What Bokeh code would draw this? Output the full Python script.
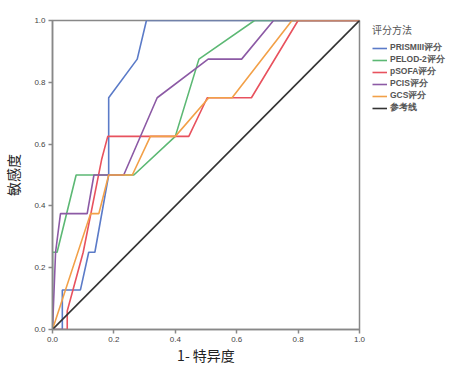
from bokeh.plotting import figure
from bokeh.models import Legend, LegendItem, FixedTicker, Range1d
from bokeh.embed import file_html
from bokeh.resources import INLINE

# ROC curves (1 - specificity, sensitivity)
prism_x = [0, 0.032, 0.032, 0.091, 0.118, 0.138, 0.183, 0.183, 0.276, 0.306, 1.0]
prism_y = [0, 0, 0.128, 0.128, 0.25, 0.25, 0.5, 0.75, 0.875, 1.0, 1.0]

pelod_x = [0, 0, 0.015, 0.077, 0.265, 0.4, 0.477, 0.658, 1.0]
pelod_y = [0, 0.25, 0.25, 0.5, 0.5, 0.625, 0.875, 1.0, 1.0]

psofa_x = [0, 0.048, 0.048, 0.1, 0.16, 0.18, 0.444, 0.504, 0.648, 0.8, 1.0]
psofa_y = [0, 0, 0.06, 0.25, 0.55, 0.625, 0.625, 0.75, 0.75, 1.0, 1.0]

pcis_x = [0, 0.01, 0.026, 0.113, 0.135, 0.232, 0.341, 0.507, 0.616, 0.72, 1.0]
pcis_y = [0, 0.25, 0.375, 0.375, 0.5, 0.5, 0.75, 0.875, 0.875, 1.0, 1.0]

gcs_x = [0, 0.124, 0.151, 0.183, 0.26, 0.319, 0.4, 0.509, 0.585, 0.78, 1.0]
gcs_y = [0, 0.375, 0.375, 0.5, 0.5, 0.625, 0.625, 0.75, 0.75, 1.0, 1.0]

ref_x = [0, 1]
ref_y = [0, 1]

names = ["PRISMIII评分", "PELOD-2评分", "pSOFA评分", "PCIS评分", "GCS评分", "参考线"]
colors = ["#5B7BC8", "#5CB874", "#E8525E", "#8C5AA5", "#F2A048", "#333333"]
series = [(prism_x, prism_y), (pelod_x, pelod_y), (psofa_x, psofa_y),
          (pcis_x, pcis_y), (gcs_x, gcs_y), (ref_x, ref_y)]
ticks = [0.0, 0.2, 0.4, 0.6, 0.8, 1.0]

p = figure(frame_width=307, frame_height=309, output_backend="svg", toolbar_location=None,
           x_range=Range1d(0, 1), y_range=Range1d(0, 1),
           min_border_left=46, min_border_right=86, min_border_top=20, min_border_bottom=10)
p.grid.visible = False
p.outline_line_color = "#888888"
p.outline_line_width = 1.5

for ax in (p.xaxis[0], p.yaxis[0]):
    ax.ticker = FixedTicker(ticks=ticks)
    ax.major_label_overrides = {t: f"{t:.1f}" for t in ticks}
    ax.axis_line_color = "#888888"
    ax.axis_line_width = 1.5
    ax.major_tick_line_color = "#888888"
    ax.major_tick_line_width = 1.5
    ax.major_tick_in = 0
    ax.major_tick_out = 4
    ax.minor_tick_line_color = None
    ax.major_label_text_font = "Liberation Sans"
    ax.major_label_text_font_size = "8px"
    ax.major_label_text_color = "#444444"
    ax.major_label_standoff = 3
    ax.axis_label_text_font = "Noto Sans CJK SC"
    ax.axis_label_text_font_size = "14px"
    ax.axis_label_text_font_style = "normal"
    ax.axis_label_text_color = "#222222"

p.yaxis.axis_label = "敏感度"
p.yaxis.axis_label_standoff = 8
p.xaxis.axis_label = "1- 特异度"
p.xaxis.axis_label_standoff = 0

items = []
for (xs, ys), name, c in zip(series, names, colors):
    r = p.line(xs, ys, line_color=c, line_width=1.6)
    items.append(LegendItem(label=name, renderers=[r]))

legend = Legend(items=items, location=(13, 215), padding=0, margin=0,
                spacing=0, glyph_width=15, glyph_height=12, label_height=12,
                label_standoff=3, label_text_font="Liberation Sans",
                label_text_font_size="8.5px", label_text_color="#555555",
                label_text_font_style="bold",
                title="评分方法", title_text_font="Noto Sans CJK SC",
                title_text_font_size="10px", title_text_color="#555555",
                title_text_font_style="normal",
                border_line_color=None, background_fill_alpha=0)
p.add_layout(legend, "right")

open("out.html", "w").write(file_html(p, INLINE))
